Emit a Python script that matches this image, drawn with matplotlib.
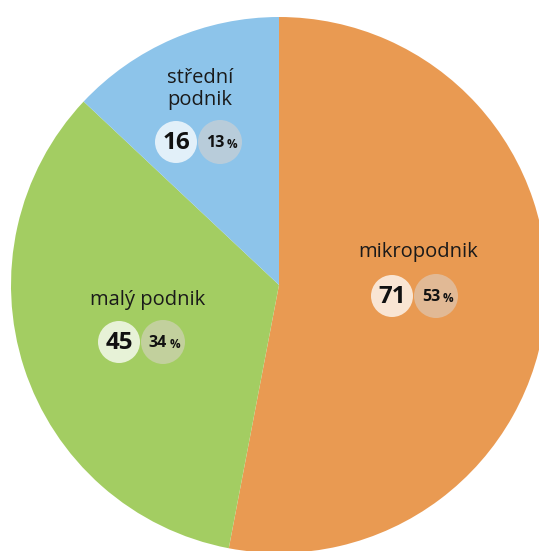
import matplotlib.pyplot as plt
from matplotlib.patches import Circle

# podniky podle velikosti
kategorie = ["mikropodnik", "malý podnik", "střední\npodnik"]
pocty = [71, 45, 16]
procenta = [53, 34, 13]
barvy = ["#E99A52", "#A3CD62", "#8DC4EA"]

plt.rcParams['font.family'] = ['Open Sans', 'DejaVu Sans']

fig = plt.figure(figsize=(5.39, 5.51), dpi=100)
ax = fig.add_axes([0, 0, 1, 1])

# kolac kresleny z procent, po smeru hodin od 12 h
ax.pie(procenta, colors=barvy, startangle=90, counterclock=False,
       center=(279, 266), radius=268, frame=True,
       wedgeprops=dict(linewidth=0))
ax.set_xlim(0, 539)
ax.set_ylim(0, 551)
ax.set_aspect('equal')
ax.axis('off')

# pozice popisku (text, kolecko s poctem)
pos_text = [(418, 299), (148, 251), (200, 462)]
pos_kruh = [(392, 255), (119, 209), (176, 409)]
r_n = 21
r_p = 22
odstup = 44

for kat, n, p, (tx, ty), (cx, cy) in zip(kategorie, pocty, procenta, pos_text, pos_kruh):
    ax.text(tx, ty, kat, ha='center', va='center', fontsize=14.5,
            color='#1a1a1a', linespacing=1.1)
    ax.add_patch(Circle((cx + odstup, cy), r_p, facecolor='#dcd4ce', alpha=0.55,
                        edgecolor='none', zorder=3))
    ax.add_patch(Circle((cx, cy), r_n, facecolor='white', alpha=0.75,
                        edgecolor='none', zorder=4))
    ax.text(cx, cy - 1, str(n), ha='center', va='center', fontsize=17.5,
            fontweight='bold', color='#111111', zorder=5)
    ax.text(cx + odstup - 5, cy - 1, str(p), ha='center', va='center', fontsize=11.5,
            fontweight='bold', color='#111111', zorder=5)
    ax.text(cx + odstup + 12, cy - 2, "%", ha='center', va='center', fontsize=8.5,
            fontweight='bold', color='#111111', zorder=5)

fig.savefig("out.png", dpi=100)
